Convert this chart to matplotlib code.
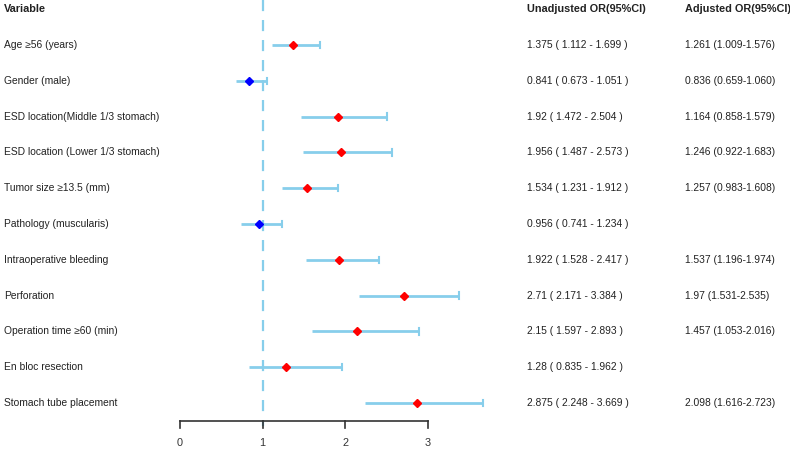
import matplotlib
matplotlib.use("Agg")
import matplotlib.pyplot as plt
import matplotlib.transforms as mtransforms

plt.rcParams['font.family'] = ['Liberation Sans', 'DejaVu Sans']

# data
variables = ["Age \u226556 (years)", "Gender (male)", "ESD location(Middle 1/3 stomach)",
             "ESD location (Lower 1/3 stomach)", "Tumor size \u226513.5 (mm)",
             "Pathology (muscularis)", "Intraoperative bleeding", "Perforation",
             "Operation time \u226560 (min)", "En bloc resection", "Stomach tube placement"]
or_val = [1.375, 0.841, 1.92, 1.956, 1.534, 0.956, 1.922, 2.71, 2.15, 1.28, 2.875]
ci_lo = [1.112, 0.673, 1.472, 1.487, 1.231, 0.741, 1.528, 2.171, 1.597, 0.835, 2.248]
ci_hi = [1.699, 1.051, 2.504, 2.573, 1.912, 1.234, 2.417, 3.384, 2.893, 1.962, 3.669]
unadj_txt = ["1.375 ( 1.112 - 1.699 )", "0.841 ( 0.673 - 1.051 )", "1.92 ( 1.472 - 2.504 )",
             "1.956 ( 1.487 - 2.573 )", "1.534 ( 1.231 - 1.912 )", "0.956 ( 0.741 - 1.234 )",
             "1.922 ( 1.528 - 2.417 )", "2.71 ( 2.171 - 3.384 )", "2.15 ( 1.597 - 2.893 )",
             "1.28 ( 0.835 - 1.962 )", "2.875 ( 2.248 - 3.669 )"]
adj_txt = ["1.261 (1.009-1.576)", "0.836 (0.659-1.060)", "1.164 (0.858-1.579)",
           "1.246 (0.922-1.683)", "1.257 (0.983-1.608)", "",
           "1.537 (1.196-1.974)", "1.97 (1.531-2.535)", "1.457 (1.053-2.016)",
           "", "2.098 (1.616-2.723)"]
xticks = [0, 1, 2, 3]

W, H = 790, 451
fig = plt.figure(figsize=(W / 100, H / 100), dpi=100)
ax = fig.add_axes([0, 0, 1, 1])
ax.axis('off')

# x: 0 at px 180, 82.5 px per unit; y: row index, row 0 at px 45, 35.8 px per row
px0, ppu = 180, 82.5
ry0, rstep = 45, 35.8
ax.set_xlim(-px0 / ppu, (W - px0) / ppu)
ax.set_ylim((H - ry0) / rstep, -ry0 / rstep)

ci_col = '#87CEEB'
axis_row = (421 - ry0) / rstep

ax.plot([1, 1], [-ry0 / rstep, axis_row + 0.15], color=ci_col, lw=1.6, ls=(0, (5, 4)), zorder=1)

for i in range(len(variables)):
    ax.plot([ci_lo[i], ci_hi[i]], [i, i], color=ci_col, lw=2, zorder=2, solid_capstyle='butt')
    ax.plot([ci_hi[i], ci_hi[i]], [i - 0.09, i + 0.09], color=ci_col, lw=1.5, zorder=2)
    c = 'red' if or_val[i] >= 1 else 'blue'
    ax.plot(or_val[i], i, marker='D', color=c, ms=4.3, zorder=3)

# x axis
ax.plot([xticks[0], xticks[-1]], [axis_row, axis_row], color='#333333', lw=1.2)
for t in xticks:
    ax.plot([t, t], [axis_row, axis_row + 0.2], color='#333333', lw=1.2)
    ax.text(t, (443 - ry0) / rstep, str(t), ha='center', va='center', fontsize=7.8, color='#333333')

# text columns
trans = mtransforms.blended_transform_factory(fig.transFigure, ax.transData)
fs = 7.4
fsb = 7.8
ax.text(4 / W, -1, "Variable", transform=trans, ha='left', va='center', fontsize=fsb, fontweight='bold', color='#222222')
ax.text(527 / W, -1, "Unadjusted OR(95%CI)", transform=trans, ha='left', va='center', fontsize=fsb, fontweight='bold', color='#222222')
ax.text(685 / W, -1, "Adjusted OR(95%CI)", transform=trans, ha='left', va='center', fontsize=fsb, fontweight='bold', color='#222222')
for i in range(len(variables)):
    ax.text(4 / W, i, variables[i], transform=trans, ha='left', va='center', fontsize=fs, color='#222222')
    ax.text(527 / W, i, unadj_txt[i], transform=trans, ha='left', va='center', fontsize=fs, color='#222222')
    ax.text(685 / W, i, adj_txt[i], transform=trans, ha='left', va='center', fontsize=fs, color='#222222')

fig.savefig("out.png", dpi=100)
